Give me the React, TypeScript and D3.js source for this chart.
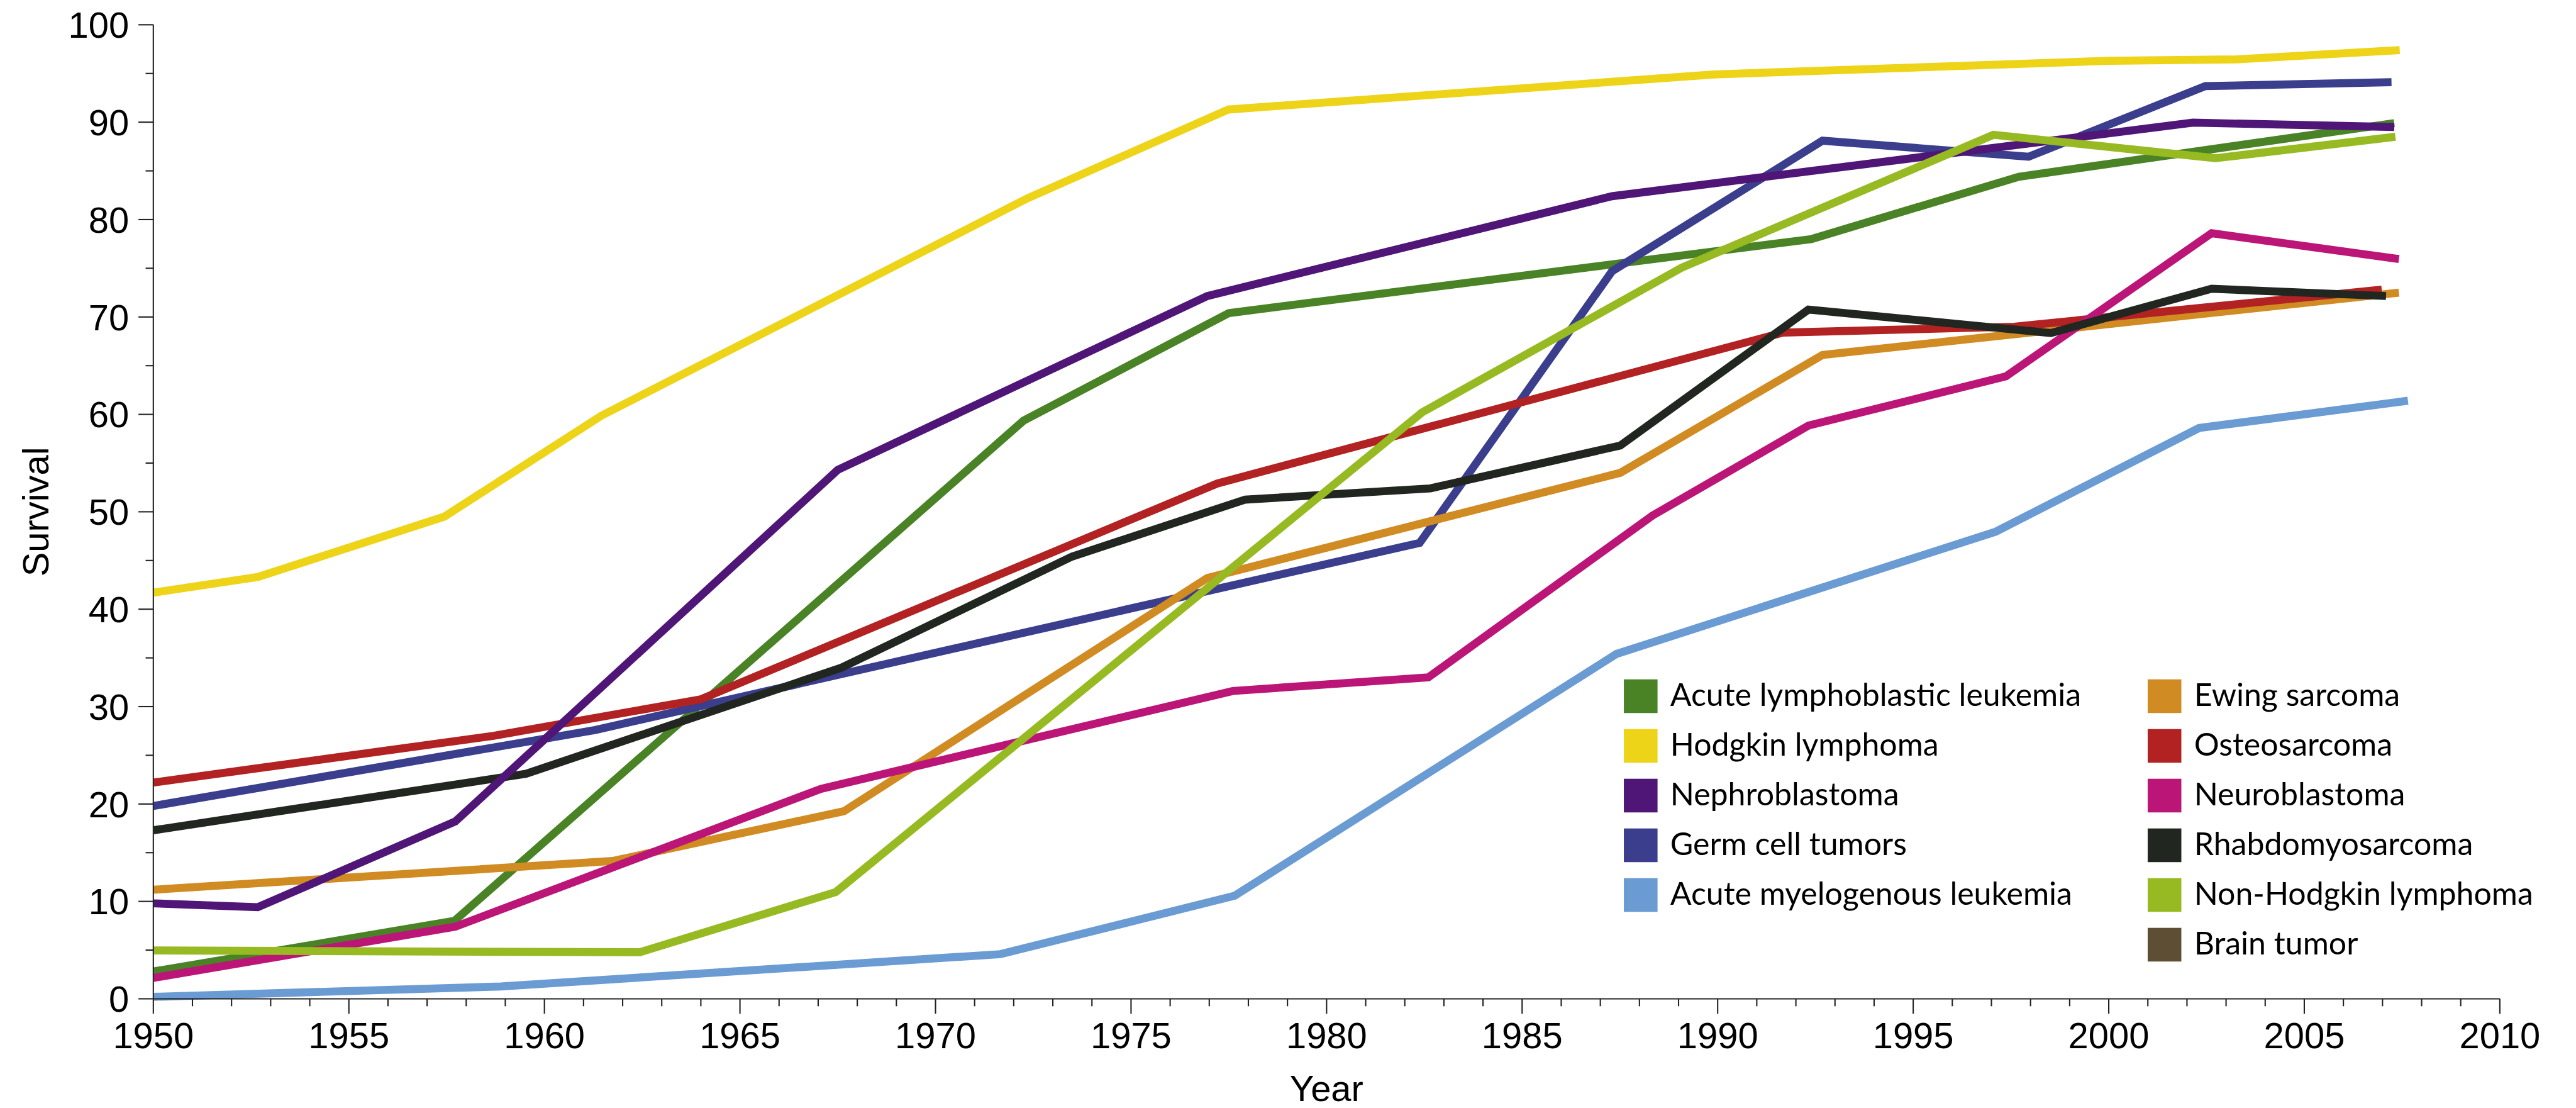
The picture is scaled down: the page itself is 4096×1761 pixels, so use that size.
import React from "react";
import * as d3 from "d3";

// ---------- data ----------
const X_DOMAIN: [number, number] = [1950, 2010];
const Y_DOMAIN: [number, number] = [0, 100];
const X_MAJOR_TICKS = [1950, 1955, 1960, 1965, 1970, 1975, 1980, 1985, 1990, 1995, 2000, 2005, 2010];
const Y_MAJOR_TICKS = [0, 10, 20, 30, 40, 50, 60, 70, 80, 90, 100];

const acuteLymphoblasticLeukemia: [number, number][] = [
  [1950, 2.8], [1957.7, 8.0], [1972.25, 59.35], [1977.5, 70.4], [1992.4, 78.0], [1997.7, 84.4], [2007.3, 89.9],
];
const hodgkinLymphoma: [number, number][] = [
  [1950, 41.7], [1952.67, 43.3], [1957.44, 49.5], [1961.45, 59.85], [1972.36, 82.2], [1977.49, 91.3],
  [1989.9, 94.9], [2000, 96.3], [2003.25, 96.45], [2007.44, 97.4],
];
const nephroblastoma: [number, number][] = [
  [1950, 9.8], [1952.67, 9.4], [1957.72, 18.2], [1967.5, 54.3], [1976.95, 72.15], [1987.3, 82.4],
  [2002.15, 89.95], [2007.3, 89.5],
];
const germCellTumors: [number, number][] = [
  [1950, 19.8], [1961.3, 27.6], [1982.38, 46.8], [1987.3, 74.7], [1992.68, 88.1], [1997.95, 86.45],
  [2002.47, 93.7], [2007.23, 94.1],
];
const acuteMyelogenousLeukemia: [number, number][] = [
  [1950, 0.2], [1958.88, 1.26], [1971.66, 4.58], [1977.65, 10.58], [1987.41, 35.4], [1997.11, 47.96],
  [2002.31, 58.6], [2007.65, 61.4],
];
const ewingSarcoma: [number, number][] = [
  [1950, 11.2], [1961.74, 14.15], [1967.66, 19.26], [1976.95, 43.2], [1987.51, 54.0], [1992.68, 66.1],
  [2007.42, 72.5],
];
const osteosarcoma: [number, number][] = [
  [1950, 22.2], [1958.7, 27.0], [1964, 30.75], [1977.2, 52.9], [1991.67, 68.4], [1997.58, 69.0], [2006.98, 72.8],
];
const neuroblastoma: [number, number][] = [
  [1950, 2.15], [1957.72, 7.4], [1967.07, 21.55], [1977.6, 31.6], [1982.6, 33.0], [1988.33, 49.6],
  [1992.32, 58.85], [1997.37, 63.9], [2002.63, 78.6], [2007.42, 75.95],
];
const rhabdomyosarcoma: [number, number][] = [
  [1950, 17.3], [1959.53, 23.1], [1967.6, 34.0], [1973.49, 45.4], [1977.92, 51.25], [1982.65, 52.4],
  [1987.51, 56.8], [1992.32, 70.76], [1998.52, 68.35], [2002.63, 72.9], [2007.09, 72.15],
];
const nonHodgkinLymphoma: [number, number][] = [
  [1950, 4.96], [1962.44, 4.78], [1967.45, 10.96], [1982.44, 60.2], [1989.08, 75.06], [1997.05, 88.7],
  [2002.73, 86.3], [2007.33, 88.5],
];
const brainTumor: [number, number][] = [];

const SERIES_NAMES = [
  "Acute lymphoblastic leukemia",
  "Hodgkin lymphoma",
  "Nephroblastoma",
  "Germ cell tumors",
  "Acute myelogenous leukemia",
  "Ewing sarcoma",
  "Osteosarcoma",
  "Neuroblastoma",
  "Rhabdomyosarcoma",
  "Non-Hodgkin lymphoma",
  "Brain tumor",
];
const SERIES_VALUES = [
  acuteLymphoblasticLeukemia,
  hodgkinLymphoma,
  nephroblastoma,
  germCellTumors,
  acuteMyelogenousLeukemia,
  ewingSarcoma,
  osteosarcoma,
  neuroblastoma,
  rhabdomyosarcoma,
  nonHodgkinLymphoma,
  brainTumor,
];
const SERIES_COLORS = [
  "#4a8226", "#edd418", "#4f1677", "#3a3e8c", "#6a9bd2",
  "#d08b22", "#b22222", "#bb1677", "#222620", "#97ba22", "#5e4e33",
];
// drawing order (later on top)
const DRAW_ORDER = [0, 1, 4, 3, 5, 6, 7, 8, 2, 9, 10];

// ---------- layout (reference pixel space) ----------
const REF_W = 4667;
const REF_H = 2006;
const OUT_W = 4096;
const OUT_H = 1761;
const PLOT = { left: 277.8, right: 4529, top: 44.6, bottom: 1808.5 };
const AXIS_FONT = "'Liberation Sans', Arial, Helvetica, sans-serif";
const LEGEND_FONT = "Lato, 'Open Sans', sans-serif";

export default function App() {
  const x = d3.scaleLinear().domain(X_DOMAIN).range([PLOT.left, PLOT.right]);
  const y = d3.scaleLinear().domain(Y_DOMAIN).range([PLOT.bottom, PLOT.top]);
  const line = d3
    .line<[number, number]>()
    .x((d) => x(d[0]))
    .y((d) => y(d[1]));

  const xMinor = d3.range(X_DOMAIN[0], X_DOMAIN[1] + 1, 1).filter((v) => v % 5 !== 0);
  const yMinor = d3.range(Y_DOMAIN[0] + 5, Y_DOMAIN[1], 10);

  const legendCols = [2942, 3891];
  const legendTop = 1230;
  const rowGap = 90;
  const sw = 61;
  const perCol = 5;

  return (
    <svg
      width={OUT_W}
      height={OUT_H}
      viewBox={`0 0 ${REF_W} ${REF_H}`}
      style={{ position: "absolute", left: 0, top: 0, display: "block", background: "#fff" }}
    >
      <rect x={0} y={0} width={REF_W} height={REF_H} fill="#fff" />

      {/* series */}
      <g fill="none" strokeWidth={14.5} strokeLinejoin="miter" strokeLinecap="butt">
        {DRAW_ORDER.map((i) =>
          SERIES_VALUES[i].length ? (
            <path key={i} d={line(SERIES_VALUES[i]) || ""} stroke={SERIES_COLORS[i]} />
          ) : null
        )}
      </g>

      {/* y axis */}
      <g stroke="#222" strokeWidth={2.4}>
        <line x1={PLOT.left} x2={PLOT.left} y1={y(Y_DOMAIN[1])} y2={y(Y_DOMAIN[0])} />
        {Y_MAJOR_TICKS.map((t) => (
          <line key={"ym" + t} x1={PLOT.left - 27} x2={PLOT.left} y1={y(t)} y2={y(t)} />
        ))}
        {yMinor.map((t) => (
          <line key={"yn" + t} x1={PLOT.left - 14} x2={PLOT.left} y1={y(t)} y2={y(t)} />
        ))}
      </g>
      <g fontFamily={AXIS_FONT} fontSize={66} fill="#000" textAnchor="end">
        {Y_MAJOR_TICKS.map((t) => (
          <text key={"yl" + t} x={PLOT.left - 44} y={y(t)} dy="0.36em">
            {t}
          </text>
        ))}
      </g>
      <text
        transform={`translate(88, ${(PLOT.top + PLOT.bottom) / 2}) rotate(-90)`}
        textAnchor="middle"
        fontFamily={AXIS_FONT}
        fontSize={66}
        fill="#000"
      >
        Survival
      </text>

      {/* x axis */}
      <g stroke="#222" strokeWidth={2.4}>
        <line x1={x(X_DOMAIN[0])} x2={x(X_DOMAIN[1])} y1={PLOT.bottom} y2={PLOT.bottom} />
        {X_MAJOR_TICKS.map((t) => (
          <line key={"xm" + t} x1={x(t)} x2={x(t)} y1={PLOT.bottom} y2={PLOT.bottom + 27} />
        ))}
        {xMinor.map((t) => (
          <line key={"xn" + t} x1={x(t)} x2={x(t)} y1={PLOT.bottom} y2={PLOT.bottom + 13.5} />
        ))}
      </g>
      <g fontFamily={AXIS_FONT} fontSize={66} fill="#000" textAnchor="middle">
        {X_MAJOR_TICKS.map((t) => (
          <text key={"xl" + t} x={x(t)} y={1898}>
            {t}
          </text>
        ))}
      </g>
      <text
        x={(PLOT.left + PLOT.right) / 2}
        y={1994}
        textAnchor="middle"
        fontFamily={AXIS_FONT}
        fontSize={66}
        fill="#000"
      >
        Year
      </text>

      {/* legend */}
      <g>
        {SERIES_NAMES.map((name, i) => {
          const col = Math.floor(i / perCol) > 0 ? 1 : 0;
          const row = col === 0 ? i : i - perCol;
          const lx = legendCols[col];
          const ly = legendTop + row * rowGap;
          return (
            <g key={name}>
              <rect x={lx} y={ly} width={sw} height={sw} fill={SERIES_COLORS[i]} />
              <text
                x={lx + 84}
                y={ly + 48.6}
                fontFamily={LEGEND_FONT}
                fontSize={57}
                fill="#000"
              >
                {name}
              </text>
            </g>
          );
        })}
      </g>
    </svg>
  );
}
